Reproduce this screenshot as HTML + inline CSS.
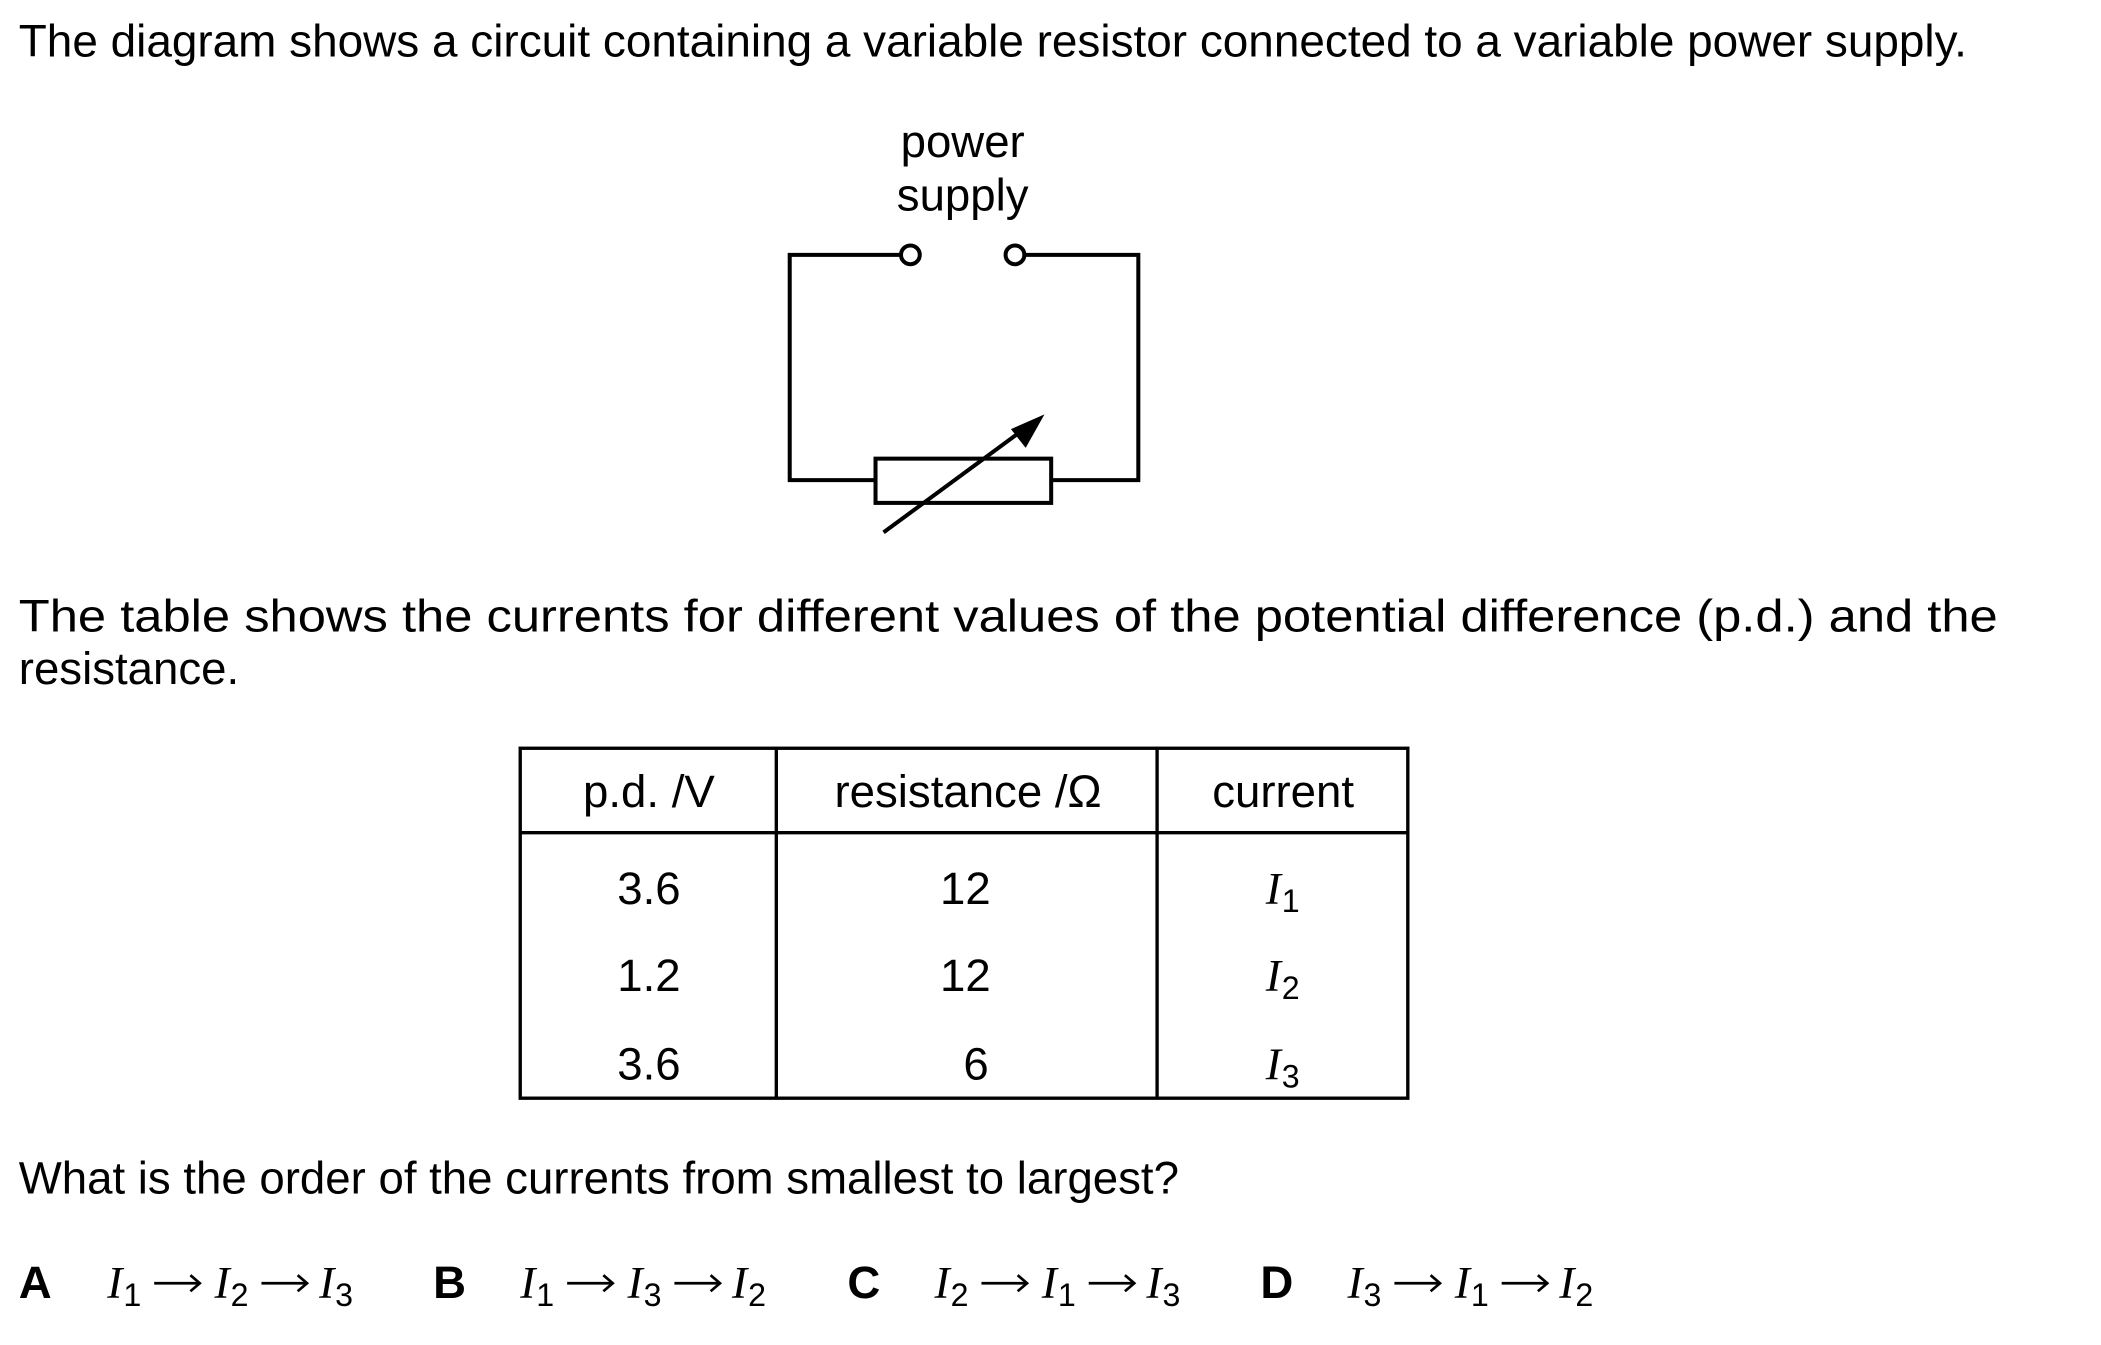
<!DOCTYPE html>
<html><head><meta charset="utf-8"><style>
html,body{margin:0;padding:0;background:#fff;}
svg{display:block;}
text{font-family:"Liberation Sans",Arial,sans-serif;fill:#000;}
.i{font-family:"Liberation Serif","Times New Roman",serif;font-style:italic;}
</style></head><body>
<svg width="2101" height="1345" viewBox="0 0 1567 1003" xmlns="http://www.w3.org/2000/svg">
<defs>
<g id="ar"><line x1="0" y1="0" x2="34" y2="0" stroke="#000" stroke-width="2"/><polyline points="27,-6 34,0 27,6" fill="none" stroke="#000" stroke-width="2"/></g>
</defs>
<g font-size="34">
<text x="14" y="42" textLength="1453" lengthAdjust="spacingAndGlyphs">The diagram shows a circuit containing a variable resistor connected to a variable power supply.</text>
<text x="718" y="117" text-anchor="middle">power</text>
<text x="718" y="157" text-anchor="middle">supply</text>
</g>
<g stroke="#000" stroke-width="3" fill="none">
<polyline points="672,190 589,190 589,358 653,358"/>
<polyline points="764,190 849,190 849,358 784,358"/>
<circle cx="679" cy="190" r="7" fill="#fff"/>
<circle cx="757" cy="190" r="7" fill="#fff"/>
<rect x="653" y="342" width="131" height="33" fill="#fff"/>
<line x1="659" y1="397" x2="765" y2="319"/>
</g>
<polygon points="779,309 754,320 765,334" fill="#000"/>
<g font-size="34">
<text x="14" y="471" textLength="1476" lengthAdjust="spacingAndGlyphs">The table shows the currents for different values of the potential difference (p.d.) and the</text>
<text x="14" y="510">resistance.</text>
</g>
<g stroke="#000" stroke-width="2.5" fill="none">
<rect x="388" y="558" width="662" height="261"/>
<line x1="579" y1="558" x2="579" y2="819"/>
<line x1="863" y1="558" x2="863" y2="819"/>
<line x1="388" y1="621" x2="1050" y2="621"/>
</g>
<g font-size="34" text-anchor="middle">
<text x="484" y="602">p.d. /V</text>
<text x="722" y="602">resistance /Ω</text>
<text x="957" y="602">current</text>
<text x="484" y="674">3.6</text><text x="720" y="674">12</text>
<text x="484" y="739">1.2</text><text x="720" y="739">12</text>
<text x="484" y="805">3.6</text><text x="728" y="805">6</text>
</g>
<g font-size="34">
<text x="944" y="674" class="i">I</text><text x="956" y="680" font-size="24">1</text>
<text x="944" y="739" class="i">I</text><text x="956" y="745" font-size="24">2</text>
<text x="944" y="805" class="i">I</text><text x="956" y="811" font-size="24">3</text>
</g>
<text x="14" y="890" font-size="34">What is the order of the currents from smallest to largest?</text>
<g font-size="34">
<text x="14" y="968" font-weight="bold">A</text>
<text x="323" y="968" font-weight="bold">B</text>
<text x="632" y="968" font-weight="bold">C</text>
<text x="940" y="968" font-weight="bold">D</text>
</g>
<g font-size="34">
<g transform="translate(80,968)"><text class="i">I</text><text x="12" y="6" font-size="24">1</text><use href="#ar" x="35" y="-11"/><text x="80" class="i">I</text><text x="92" y="6" font-size="24">2</text><use href="#ar" x="115" y="-11"/><text x="158" class="i">I</text><text x="170" y="6" font-size="24">3</text></g>
<g transform="translate(388,968)"><text class="i">I</text><text x="12" y="6" font-size="24">1</text><use href="#ar" x="35" y="-11"/><text x="80" class="i">I</text><text x="92" y="6" font-size="24">3</text><use href="#ar" x="115" y="-11"/><text x="158" class="i">I</text><text x="170" y="6" font-size="24">2</text></g>
<g transform="translate(697,968)"><text class="i">I</text><text x="12" y="6" font-size="24">2</text><use href="#ar" x="35" y="-11"/><text x="80" class="i">I</text><text x="92" y="6" font-size="24">1</text><use href="#ar" x="115" y="-11"/><text x="158" class="i">I</text><text x="170" y="6" font-size="24">3</text></g>
<g transform="translate(1005,968)"><text class="i">I</text><text x="12" y="6" font-size="24">3</text><use href="#ar" x="35" y="-11"/><text x="80" class="i">I</text><text x="92" y="6" font-size="24">1</text><use href="#ar" x="115" y="-11"/><text x="158" class="i">I</text><text x="170" y="6" font-size="24">2</text></g>
</g>
</svg>
</body></html>
